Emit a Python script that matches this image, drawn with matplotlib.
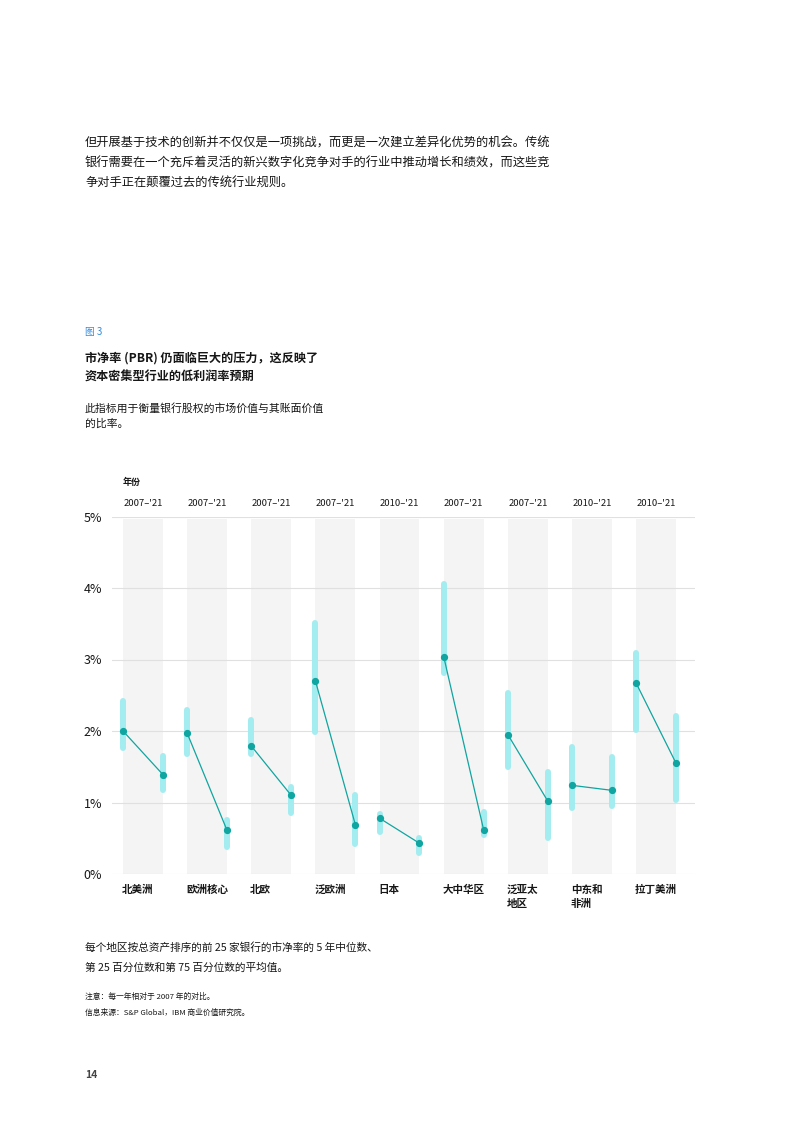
import matplotlib
matplotlib.use("Agg")
import matplotlib.pyplot as plt
import matplotlib.transforms as mtransforms

plt.rcParams['font.family'] = ['Noto Sans CJK SC', 'DejaVu Sans']

# data (P/B ratio, %)
regions = ["北美洲", "欧洲核心", "北欧", "泛欧洲", "日本", "大中华区", "泛亚太\n地区", "中东和\n非洲", "拉丁美洲"]
periods = ["2007–'21", "2007–'21", "2007–'21", "2007–'21", "2010–'21", "2007–'21", "2007–'21", "2010–'21", "2010–'21"]
start_mid = [2.00, 1.97, 1.79, 2.70, 0.78, 3.04, 1.95, 1.24, 2.67]
start_lo = [1.76, 1.68, 1.68, 1.98, 0.59, 2.81, 1.50, 0.93, 2.01]
start_hi = [2.42, 2.29, 2.15, 3.51, 0.84, 4.06, 2.53, 1.77, 3.09]
end_mid = [1.39, 0.61, 1.10, 0.69, 0.43, 0.62, 1.02, 1.17, 1.55]
end_lo = [1.17, 0.38, 0.86, 0.42, 0.29, 0.55, 0.50, 0.95, 1.03]
end_hi = [1.65, 0.75, 1.22, 1.10, 0.50, 0.87, 1.43, 1.63, 2.21]
yticks = [0, 1, 2, 3, 4, 5]
ytick_labels = ["0%", "1%", "2%", "3%", "4%", "5%"]

W, H = 793, 1122
fig = plt.figure(figsize=(W / 100, H / 100), dpi=100)
ink = "#161616"


def put(x, y, s, **kw):
    kw.setdefault("color", ink)
    kw.setdefault("va", "center")
    fig.text(x / W, 1 - y / H, s, **kw)


# page text
body = ["但开展基于技术的创新并不仅仅是一项挑战，而更是一次建立差异化优势的机会。传统",
        "银行需要在一个充斥着灵活的新兴数字化竞争对手的行业中推动增长和绩效，而这些竞",
        "争对手正在颠覆过去的传统行业规则。"]
for i, line in enumerate(body):
    put(85, 143 + i * 20, line, fontsize=8.8)

put(85, 332, "图 3", fontsize=7, color="#2f8ae0")
put(85, 358, "市净率 (PBR) 仍面临巨大的压力，这反映了", fontsize=8.7, fontweight="bold")
put(85, 377, "资本密集型行业的低利润率预期", fontsize=8.7, fontweight="bold")
put(85, 408, "此指标用于衡量银行股权的市场价值与其账面价值", fontsize=7.8)
put(85, 424, "的比率。", fontsize=7.8)

put(85, 948, "每个地区按总资产排序的前 25 家银行的市净率的 5 年中位数、", fontsize=7.7, fontstyle="italic")
put(85, 968, "第 25 百分位数和第 75 百分位数的平均值。", fontsize=7.7, fontstyle="italic")
put(85, 997, "注意：每一年相对于 2007 年的对比。", fontsize=5.6, fontstyle="italic")
put(85, 1013, "信息来源：S&P Global，IBM 商业价值研究院。", fontsize=5.6, fontstyle="italic")
put(85, 1075, "14", fontsize=7.5, fontweight="bold", color="#444444")

# chart
ax = fig.add_axes([112 / W, (H - 874) / H, 583 / W, (874 - 516.5) / H])
ax.set_xlim(-0.483, 8.607)
ax.set_ylim(0, 5)
half = 0.311

for y in yticks:
    ax.axhline(y, color="#e0e0e0", lw=0.8, zorder=1)

for i in range(len(regions)):
    ax.axvspan(i - half, i + half, ymin=0, ymax=0.993, color="#f4f4f4", lw=0, zorder=0)
    x0, x1 = i - half, i + half
    ax.plot([x0, x0], [start_lo[i], start_hi[i]], color="#a3ecef", lw=4.3,
            solid_capstyle="round", zorder=2)
    ax.plot([x1, x1], [end_lo[i], end_hi[i]], color="#a3ecef", lw=4.3,
            solid_capstyle="round", zorder=2)
    ax.plot([x0, x1], [start_mid[i], end_mid[i]], color="#10a5a0", lw=0.9,
            marker="o", ms=4.2, zorder=3)

trans = mtransforms.blended_transform_factory(ax.transData, ax.transAxes)
for i, (reg, per) in enumerate(zip(regions, periods)):
    first, *rest = reg.split("\n")
    ax.text(i - half - 0.02, -0.053, first, transform=trans, ha="left", va="baseline",
            fontsize=7.6, fontweight="bold", color=ink)
    for k, extra in enumerate(rest):
        ax.text(i - half - 0.02, -0.053 - 0.04 * (k + 1), extra, transform=trans,
                ha="left", va="baseline", fontsize=7.6, fontweight="bold", color=ink)
    ax.text(i, 1.036, per, transform=trans, ha="center", va="center",
            fontsize=6.8, color=ink)
ax.text(-half, 1.095, "年份", transform=trans, ha="left", va="center",
        fontsize=6.5, fontweight="bold", color=ink)

ax.set_yticks(yticks)
ax.set_yticklabels(ytick_labels, fontsize=9, color=ink)
ax.tick_params(axis="y", length=0, pad=7)
ax.set_xticks([])
for s in ax.spines.values():
    s.set_visible(False)

fig.savefig("out.png", dpi=100)
